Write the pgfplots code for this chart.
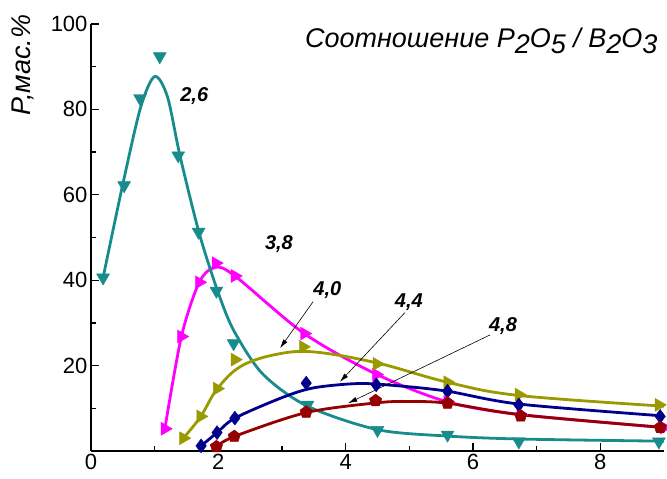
\documentclass[border=0pt]{standalone}
\usepackage{fontspec}
\setmainfont{Liberation Sans}
\usepackage{pgfplots}
\pgfplotsset{compat=1.18}
\usetikzlibrary{plotmarks,arrows.meta}
\definecolor{cteal}{RGB}{24,140,140}
\definecolor{cmag}{RGB}{255,0,255}
\definecolor{colive}{RGB}{153,153,0}
\definecolor{cblue}{RGB}{0,0,140}
\definecolor{cbrown}{RGB}{150,0,0}
\begin{document}
\begin{tikzpicture}
\begin{axis}[
 scale only axis, width=573pt, height=427pt,
 xmin=0, xmax=9, ymin=0, ymax=100,
 axis x line=bottom, axis y line=left,
 axis line style={-, line width=1.6pt},
 xtick={0,2,4,6,8}, minor xtick={1,3,5,7},
 ytick={20,40,60,80,100}, minor ytick={10,30,50,70,90},
 tick align=inside,
 major tick length=8pt, minor tick length=5pt,
 every tick/.style={black, line width=1.3pt},
 tick label style={font=\fontsize{22}{26}\selectfont},
 /pgf/number format/assume math mode=true,
 clip marker paths=false,
 line join=round,
]
% magenta 3,8
\addplot[cmag, line width=2.8pt, smooth, tension=0.5] coordinates {(1.16,5.2)(1.42,26.8)(1.7,39.5)(1.95,43)(2.26,41)(3.35,27.5)(4.48,18)(5.6,11.5)(6.75,8.5)(9,5.5)};
\addplot[cmag, only marks, mark=triangle*, mark size=7.5pt, mark options={rotate=-90}] coordinates {(1.16,5.2)(1.42,26.8)(1.70,39.5)(1.96,44)(2.26,41)(3.35,27.5)(4.48,17.9)(5.6,11.5)(6.75,8.5)(9,5.5)};
% teal 2,6
\addplot[cteal, line width=2.8pt, smooth, tension=0.5] coordinates {(0.19,40.6)(0.5,62.5)(0.78,80.5)(1.0,87.7)(1.2,83)(1.4,69)(1.7,51)(2.0,37)(2.25,28)(2.7,18)(3.4,10.5)(4.5,5)(5.6,3.5)(6.75,2.8)(9,2.3)};
\addplot[cteal, only marks, mark=triangle*, mark size=7.5pt, mark options={rotate=180}] coordinates {(0.19,40.6)(0.52,62.2)(0.77,82.6)(1.08,92.4)(1.37,69.2)(1.69,51.3)(1.97,37.5)(2.24,25.2)(3.4,10.8)(4.5,4.9)(5.6,3.8)(6.72,2.2)(8.92,2.2)};
% olive 4,0
\addplot[colive, line width=2.8pt, smooth, tension=0.6] coordinates {(1.45,3)(1.72,8)(1.98,14.5)(2.35,19.8)(2.9,22.6)(3.5,23.2)(4.5,20.6)(5.6,16.1)(6.72,13)(9,10.5)};
\addplot[colive, only marks, mark=triangle*, mark size=7.5pt, mark options={rotate=-90}] coordinates {(1.45,3)(1.72,8.1)(1.98,14.6)(2.26,21.4)(3.33,24.4)(4.49,20.4)(5.6,16.1)(6.72,13.2)(8.92,10.8)};
% blue 4,4
\addplot[cblue, line width=2.8pt, smooth, tension=0.5] coordinates {(1.73,1.2)(1.98,4.3)(2.26,7.7)(3.0,12.5)(3.5,14.8)(4.2,15.8)(4.8,15.3)(5.6,14)(6.72,11)(9,8.2)};
\addplot[cblue, only marks, mark=diamond*, mark size=7pt] coordinates {(1.73,1.2)(1.98,4.3)(2.26,7.7)(3.38,15.9)(4.48,15.5)(5.6,14)(6.72,10.8)(8.94,8.1)};
% brown 4,8
\addplot[cbrown, line width=2.8pt, smooth, tension=0.5] coordinates {(1.97,1)(2.25,3.4)(3.38,9)(4.5,11.3)(5.0,11.6)(5.6,11.2)(6.75,8.5)(9,5.5)};
\addplot[cbrown, only marks, mark=pentagon*, mark size=6.5pt] coordinates {(1.97,1)(2.25,3.4)(3.38,9.1)(4.47,11.8)(5.6,11.2)(6.75,8.2)(8.94,5.5)};
% arrows
\draw[black, line width=0.6pt, -{Latex[length=9pt,width=5pt]}] (axis cs:3.49,35.0) -- (axis cs:2.97,24.1);
\draw[black, line width=0.6pt, -{Latex[length=9pt,width=5pt]}] (axis cs:4.93,32.4) -- (axis cs:3.91,16.2);
\draw[black, line width=0.6pt, -{Latex[length=9pt,width=5pt]}] (axis cs:6.27,27.2) -- (axis cs:4.04,11.2);
% labels
\node[anchor=base west, font=\bfseries\itshape\fontsize{20}{24}\selectfont, inner sep=0pt] at (axis cs:1.40,81.9) {2,6};
\node[anchor=base west, font=\bfseries\itshape\fontsize{20}{24}\selectfont, inner sep=0pt] at (axis cs:2.73,47.1) {3,8};
\node[anchor=base west, font=\bfseries\itshape\fontsize{20}{24}\selectfont, inner sep=0pt] at (axis cs:3.49,36.5) {4,0};
\node[anchor=base west, font=\bfseries\itshape\fontsize{20}{24}\selectfont, inner sep=0pt] at (axis cs:4.77,33.5) {4,4};
\node[anchor=base west, font=\bfseries\itshape\fontsize{20}{24}\selectfont, inner sep=0pt] at (axis cs:6.25,27.9) {4,8};
\node[anchor=base west, font=\itshape\fontsize{27}{30}\selectfont, inner sep=0pt] at (axis cs:3.36,94.4) {Соотношение P\raisebox{-6pt}{2}O\raisebox{-6pt}{5} / B\raisebox{-6pt}{2}O\raisebox{-6pt}{3}};
\end{axis}
\node[rotate=90, anchor=center, font=\itshape\fontsize{27}{30}\selectfont, inner sep=0pt] at (-68pt,386pt) {P,мас.\%};
\pgfresetboundingbox
\path[use as bounding box] (-91pt,-28pt) rectangle (576pt,451pt);
\end{tikzpicture}
\end{document}
